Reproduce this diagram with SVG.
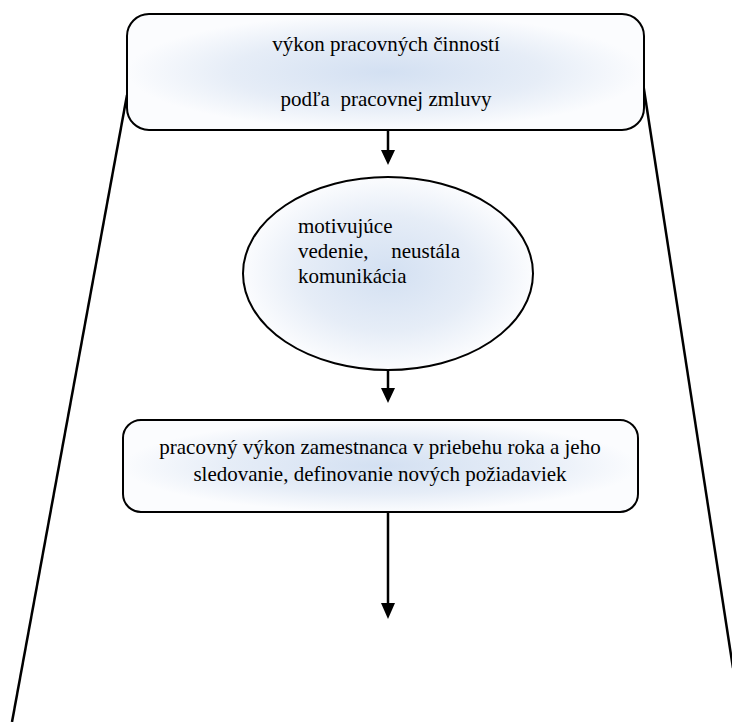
<svg xmlns="http://www.w3.org/2000/svg" width="732" height="722" viewBox="0 0 732 722">
<style>
.box{stroke:#000;stroke-width:2}
text{font-family:'Liberation Serif','DejaVu Serif',serif;font-size:21px;fill:#000}
.c{stroke:#000;stroke-width:2.5;fill:none}
</style>
<defs>
<radialGradient id="g" cx="50%" cy="50%" r="50%">
<stop offset="0" stop-color="#d3e0f2"/>
<stop offset="0.6" stop-color="#e6edf7"/>
<stop offset="1" stop-color="#fbfcfe"/>
</radialGradient>
</defs>
<g id="connectors">
<line class="c" x1="127" y1="95" x2="12" y2="722"/>
<line class="c" x1="643" y1="83" x2="733" y2="668"/>
<path d="M388,131 V151" class="c"/>
<path d="M381,150 L395,150 L388,165 Z" fill="#000"/>
<path d="M388,370 V389" class="c"/>
<path d="M381,388 L395,388 L388,403 Z" fill="#000"/>
<path d="M388,513 V604" class="c"/>
<path d="M381,603 L395,603 L388,619 Z" fill="#000"/>
</g>
<g id="n1">
<rect class="box" x="127" y="14" width="517" height="116" rx="22" fill="url(#g)"/>
<text x="386" y="51" text-anchor="middle">výkon pracovných činností</text>
<text x="386" y="106" text-anchor="middle" xml:space="preserve">podľa  pracovnej zmluvy</text>
</g>
<g id="n2">
<ellipse class="box" cx="388" cy="273.5" rx="145" ry="96.5" fill="url(#g)"/>
<text x="298" y="233">motivujúce</text>
<text x="298" y="258">vedenie,</text>
<text x="460" y="258" text-anchor="end">neustála</text>
<text x="298" y="283">komunikácia</text>
</g>
<g id="n3">
<rect class="box" x="123" y="420" width="515" height="92" rx="18" fill="url(#g)"/>
<text x="380" y="454" text-anchor="middle">pracovný výkon zamestnanca v priebehu roka a jeho</text>
<text x="380" y="481" text-anchor="middle">sledovanie, definovanie nových požiadaviek</text>
</g>
</svg>
